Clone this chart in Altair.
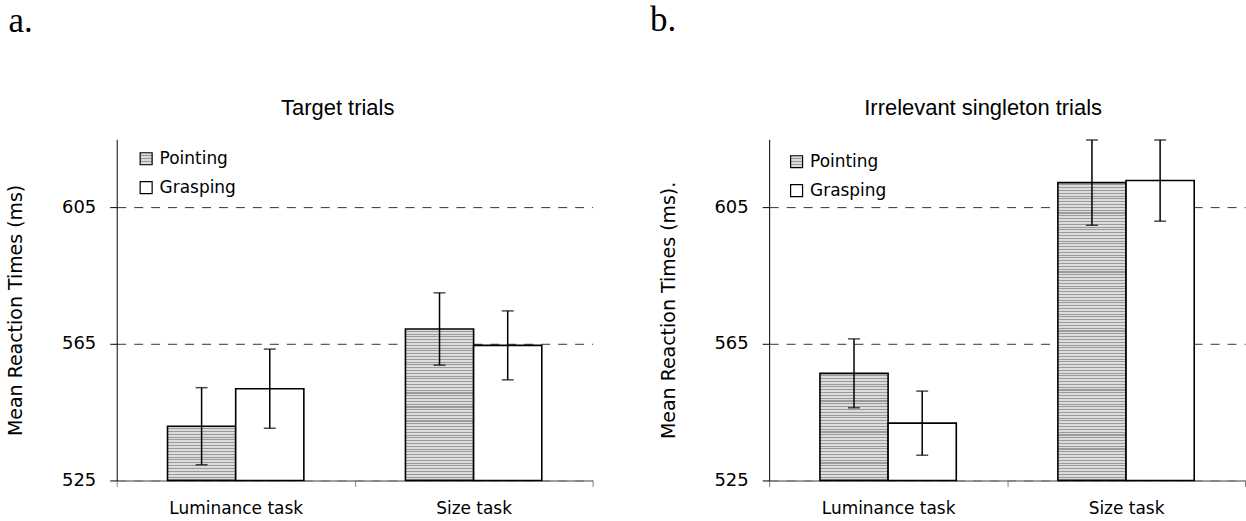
import json
import altair as alt

tasks = ["Luminance task", "Size task"]
grips = ["Pointing", "Grasping"]

a_title = "Target trials"
a_ytitle = "Mean Reaction Times (ms)"
a_pointing_mean = [540.9, 569.4]
a_pointing_err = [11.3, 10.6]
a_grasping_mean = [551.9, 564.6]
a_grasping_err = [11.6, 10.1]

b_title = "Irrelevant singleton trials"
b_ytitle = "Mean Reaction Times (ms)."
b_pointing_mean = [556.4, 612.3]
b_pointing_err = [10.1, 12.5]
b_grasping_mean = [541.8, 612.9]
b_grasping_err = [9.4, 11.9]

y_ticks = [525, 565, 605]
y_domain = [525, 625]

LIGHT = "#dcdcdc"
DARK = "#9a9a9a"


def stripes(n):
    stops = []
    for i in range(n):
        a = round(i / n, 6)
        b = round((i + 0.62) / n, 6)
        c = round((i + 1) / n, 6)
        stops += [
            {"offset": a, "color": LIGHT},
            {"offset": b, "color": LIGHT},
            {"offset": b, "color": DARK},
            {"offset": c, "color": DARK},
        ]
    return {"gradient": "linear", "x1": 0, "y1": 0, "x2": 0, "y2": 1, "stops": stops}


def records(p_mean, p_err, g_mean, g_err):
    rows = []
    for k, task in enumerate(tasks):
        for grip, m, e in (("Pointing", p_mean[k], p_err[k]), ("Grasping", g_mean[k], g_err[k])):
            if grip == "Pointing":
                paint = stripes(max(2, round((m - y_domain[0]) / 0.82)))
            else:
                paint = "white"
            rows.append({"task": task, "grip": grip, "mean": m,
                         "lo": m - e, "hi": m + e, "paint": paint})
    return rows


legend_fill = alt.ExprRef(
    "datum.value === 'Pointing' ? " + json.dumps(stripes(4)) + " : 'white'")


def panel(rows, title, ytitle, title_dx, leg_x, leg_y):
    yscale = alt.Scale(domain=y_domain, nice=False, zero=False)
    yaxis = alt.Axis(values=y_ticks, title=ytitle, titleFont="DejaVu Sans",
                     titleFontSize=19, titleFontWeight="normal", titleColor="black",
                     titlePadding=36, labelFont="DejaVu Sans", labelFontSize=18,
                     labelColor="black", labelPadding=14, tickSize=7,
                     tickColor="black", domainColor="black", domainWidth=1,
                     grid=True, gridDash=[9, 8], gridColor="#333333", gridWidth=1)
    base = alt.Chart(alt.Data(values=rows)).encode(
        x=alt.X("task:N", sort=tasks,
                scale=alt.Scale(paddingInner=0, paddingOuter=0),
                axis=alt.Axis(title=None, labelAngle=0, labelFont="DejaVu Sans",
                              labelFontSize=17, labelColor="black", labelPadding=14,
                              tickBand="extent", tickSize=6, tickColor="#808080",
                              domainColor="#808080", domainWidth=1.5, grid=False)),
        xOffset=alt.XOffset("grip:N", sort=grips,
                            scale=alt.Scale(paddingInner=0, paddingOuter=0.745)),
    )
    bars = base.mark_bar(strokeWidth=1.6).encode(
        y=alt.Y("mean:Q", scale=yscale, axis=yaxis),
        y2=alt.datum(y_domain[0]),
        fill=alt.Fill("paint:N", scale=None),
        stroke=alt.Stroke("grip:N", sort=grips,
                          scale=alt.Scale(domain=grips, range=["black", "black"]),
                          legend=alt.Legend(
                              title=None, orient="none", legendX=leg_x, legendY=leg_y,
                              symbolType="square", symbolSize=144, symbolStrokeWidth=1.2,
                              symbolFillColor=legend_fill, symbolStrokeColor="black",
                              labelFont="DejaVu Sans", labelFontSize=17, labelColor="black",
                              labelOffset=5, rowPadding=11, padding=0)),
    )
    rule = base.mark_rule(color="black", strokeWidth=1.5).encode(
        y=alt.Y("lo:Q", scale=yscale, axis=yaxis), y2="hi:Q")
    cap_lo = base.mark_tick(color="black", size=12, thickness=1.5, orient="horizontal").encode(
        y=alt.Y("lo:Q", scale=yscale, axis=yaxis))
    cap_hi = base.mark_tick(color="black", size=12, thickness=1.5, orient="horizontal").encode(
        y=alt.Y("hi:Q", scale=yscale, axis=yaxis))
    return alt.layer(bars, rule, cap_lo, cap_hi).properties(
        width=477, height=342,
        title=alt.TitleParams(title, font="Liberation Sans", fontSize=22, fontWeight="normal",
                              color="black", anchor="middle", frame="group", dx=title_dx, offset=19),
    )


panel_a = panel(records(a_pointing_mean, a_pointing_err, a_grasping_mean, a_grasping_err),
                a_title, a_ytitle, -17, 21, 11)
panel_b = panel(records(b_pointing_mean, b_pointing_err, b_grasping_mean, b_grasping_err),
                b_title, b_ytitle, -24, 19, 14)

left = alt.vconcat(panel_a, title=alt.TitleParams("a.", anchor="start", font="Liberation Serif",
                                                  fontSize=35, fontWeight="normal", color="black",
                                                  offset=59, dx=2))
right = alt.vconcat(panel_b, title=alt.TitleParams("b.", anchor="start", font="Liberation Serif",
                                                   fontSize=35, fontWeight="normal", color="black",
                                                   offset=59, dx=-9))

chart = alt.hconcat(left, right, spacing=56).resolve_scale(
    stroke="independent"
).resolve_legend(
    stroke="independent"
).properties(
    padding={"left": 6, "top": 2, "right": 0, "bottom": 0}
).configure_view(stroke=None)

chart.save("out.html", embed_options={"renderer": "svg", "actions": False})
